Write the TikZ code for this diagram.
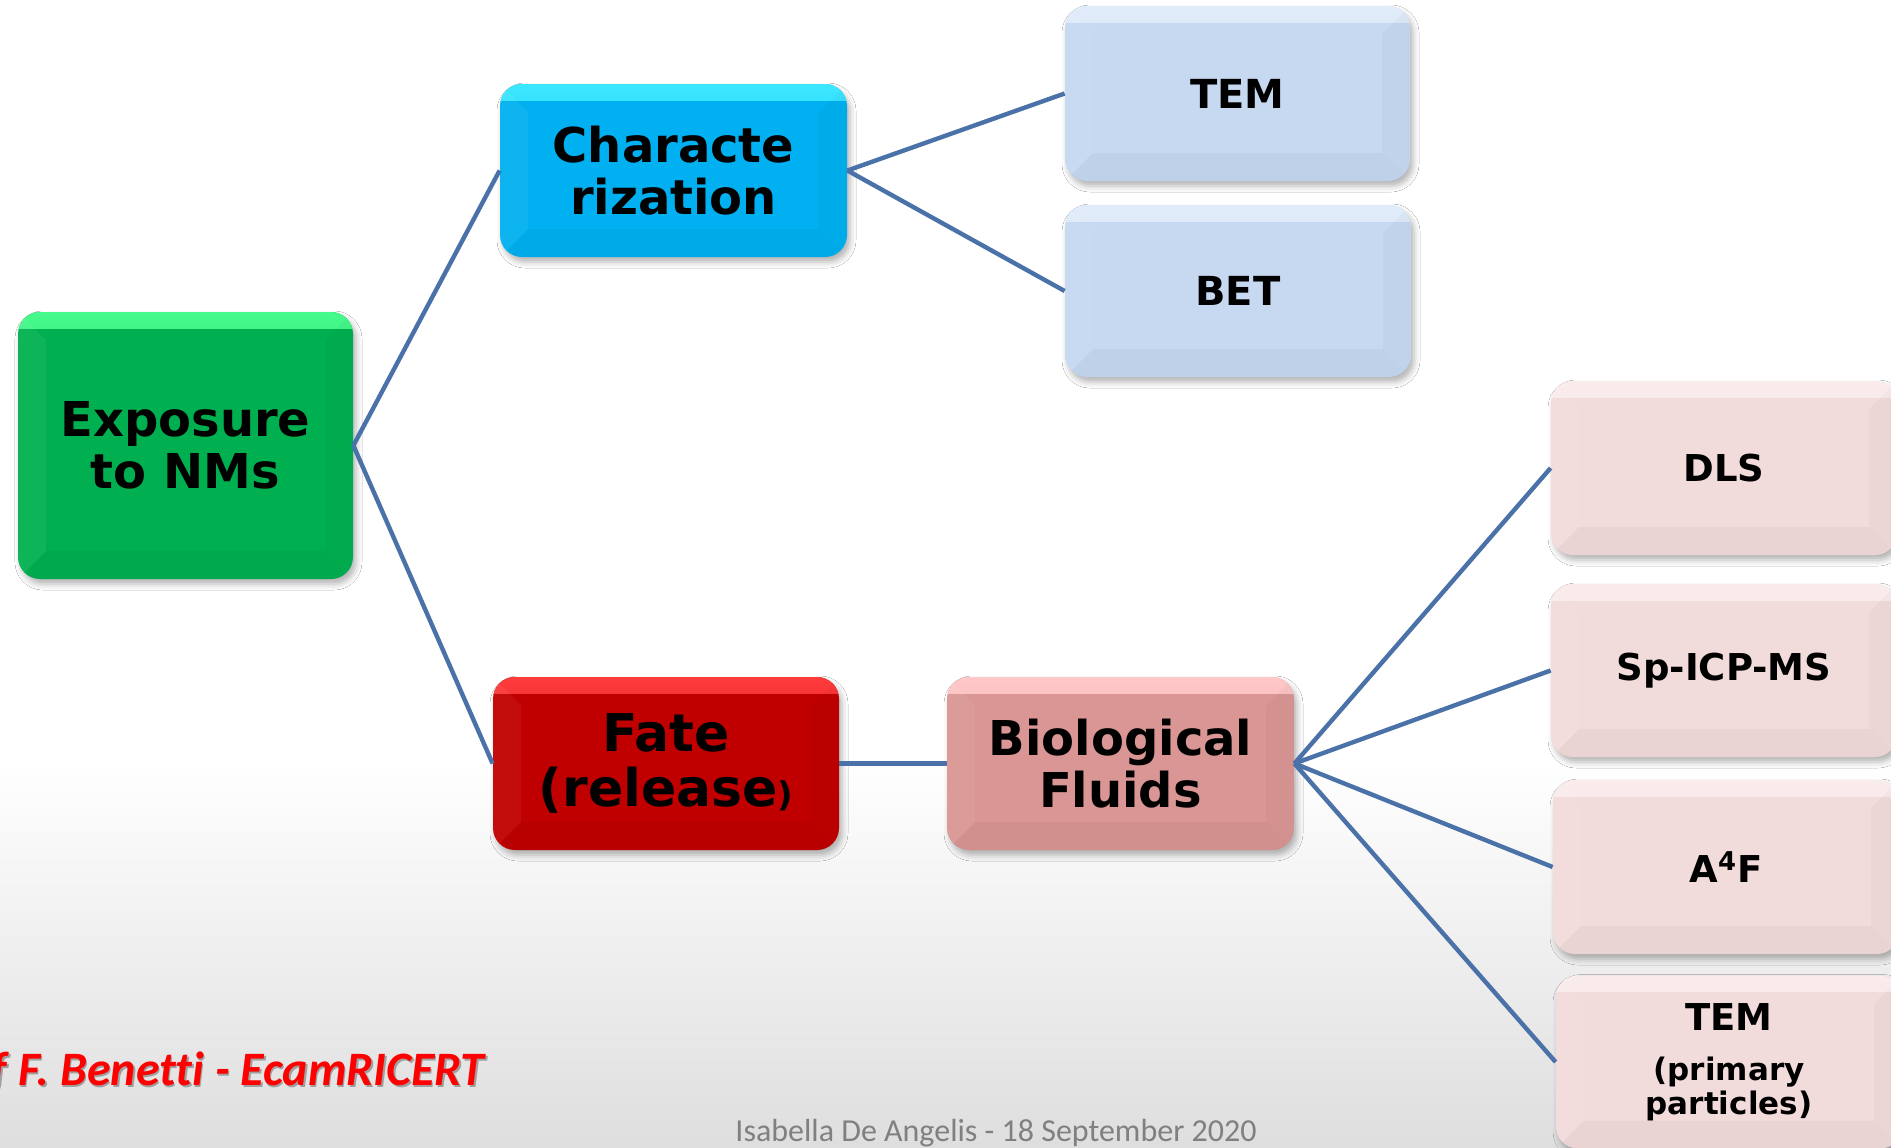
\documentclass[tikz,border=0pt]{standalone}
\usepackage{fontspec}
\setmainfont{DejaVu Sans}
\newfontfamily\carlito[Ligatures=NoCommon]{Carlito}
\usetikzlibrary{shadows.blur}
\definecolor{lineblue}{RGB}{74,114,168}
\definecolor{bggray}{RGB}{222,222,222}
\definecolor{greenB}{RGB}{0,176,80}
\definecolor{greenL}{RGB}{70,250,140}
\definecolor{blueB}{RGB}{0,176,240}
\definecolor{blueL}{RGB}{60,232,255}
\definecolor{paleblue}{RGB}{198,217,241}
\definecolor{palebluL}{RGB}{225,236,250}
\definecolor{redB}{RGB}{192,0,0}
\definecolor{redL}{RGB}{255,60,60}
\definecolor{bioB}{RGB}{217,150,148}
\definecolor{bioL}{RGB}{255,200,200}
\definecolor{pinkB}{RGB}{242,220,219}
\definecolor{pinkL}{RGB}{250,236,236}
\tikzset{
  bevelbox/.style 2 args={draw=none, fill=#1, rounded corners=11pt, inner sep=0pt, align=center,
    blur shadow={shadow xshift=1.5pt, shadow yshift=-2.5pt, shadow blur radius=3pt, shadow opacity=30},
    path picture={
      \shade[sharp corners, top color=#2, bottom color=#1] (path picture bounding box.north west) rectangle ([yshift=-8pt]path picture bounding box.north east);
      \fill[sharp corners, white, opacity=0.05] (path picture bounding box.north west) -- (path picture bounding box.south west) -- ([shift={(14pt,14pt)}]path picture bounding box.south west) -- ([shift={(14pt,-14pt)}]path picture bounding box.north west) -- cycle;
      \fill[sharp corners, black, opacity=0.025] (path picture bounding box.north east) -- (path picture bounding box.south east) -- ([shift={(-14pt,14pt)}]path picture bounding box.south east) -- ([shift={(-14pt,-14pt)}]path picture bounding box.north east) -- cycle;
      \fill[sharp corners, black, opacity=0.035] (path picture bounding box.south west) -- (path picture bounding box.south east) -- ([shift={(-14pt,14pt)}]path picture bounding box.south east) -- ([shift={(14pt,14pt)}]path picture bounding box.south west) -- cycle;
    }},
  bigfont/.style={font=\fontsize{24}{26}\selectfont\bfseries},
  midfont/.style={font=\fontsize{20}{22}\selectfont\bfseries},
  smallfont/.style={font=\fontsize{18.5}{20}\selectfont\bfseries},
  conn/.style={draw=lineblue, line width=2.2pt}
}
\begin{document}
\begin{tikzpicture}[x=0.5pt,y=-0.5pt]
\useasboundingbox (0,0) rectangle (1891,1147);
\clip (0,0) rectangle (1891,1147);
\fill[white] (0,0) rectangle (1891,1147);
\shade[top color=white, bottom color=bggray] (0,760) rectangle (1891,1147);

% nodes
\node[bevelbox={greenB}{greenL}, bigfont, minimum width=167.5pt, minimum height=133.5pt] (exp) at (185.5,445.5) {Exposure\\to NMs};
\node[bevelbox={blueB}{blueL}, bigfont, minimum width=173.5pt, minimum height=86.5pt] (char) at (673.5,170.5) {Characte\\rization};
\node[bevelbox={paleblue}{palebluL}, midfont, minimum width=172.5pt, minimum height=87.5pt] (tem1) at (1237.5,93.5) {TEM};
\node[bevelbox={paleblue}{palebluL}, midfont, minimum width=173pt, minimum height=86pt] (bet) at (1238,291) {BET};
\node[bevelbox={redB}{redL}, font=\fontsize{26}{27.5}\selectfont\bfseries, minimum width=173pt, minimum height=86.5pt] (fate) at (666,763.5) {Fate\\(release{\fontsize{17}{17}\selectfont)}};
\node[bevelbox={bioB}{bioL}, bigfont, minimum width=173.5pt, minimum height=86.5pt] (bio) at (1120.5,763.5) {Biological\\Fluids};
\node[bevelbox={pinkB}{pinkL}, smallfont, minimum width=173pt, minimum height=87pt] (dls) at (1724,468) {DLS};
\node[bevelbox={pinkB}{pinkL}, smallfont, minimum width=173pt, minimum height=86.5pt] (sp) at (1724,670.5) {Sp-ICP-MS};
\node[bevelbox={pinkB}{pinkL}, smallfont, minimum width=173pt, minimum height=87pt] (a4f) at (1726,867) {A\textsuperscript{4}F};
\node[bevelbox={pinkB}{pinkL}, font=\fontsize{15.5}{17}\selectfont\bfseries, minimum width=173pt, minimum height=86.5pt] (tem2) at (1729,1062) {{\fontsize{18.5}{20}\selectfont TEM}\\[8pt](primary\\particles)};

% connectors
\draw[conn] (exp.east) -- (char.west);
\draw[conn] (exp.east) -- (fate.west);
\draw[conn] (char.east) -- (tem1.west);
\draw[conn] (char.east) -- (bet.west);
\draw[conn] (fate.east) -- (bio.west);
\draw[conn] (bio.east) -- (dls.west);
\draw[conn] (bio.east) -- (sp.west);
\draw[conn] (bio.east) -- (a4f.west);
\draw[conn] (bio.east) -- (tem2.west);

% texts
\node[anchor=base east, inner sep=0pt, text=black!55, opacity=0.6, font=\carlito\fontsize{24}{26}\selectfont\bfseries\itshape] (credsh) at (486.5,1087.5) {f F. Benetti - EcamRICERT};
\node[anchor=base east, inner sep=0pt, text=red, font=\carlito\fontsize{24}{26}\selectfont\bfseries\itshape] (cred) at (485,1085) {f F. Benetti - EcamRICERT};
\node[anchor=base, inner sep=0pt, text=black!50, font=\carlito\fontsize{16}{18}\selectfont] (foot) at (996,1141) {Isabella De Angelis - 18 September 2020};
\end{tikzpicture}
\end{document}
